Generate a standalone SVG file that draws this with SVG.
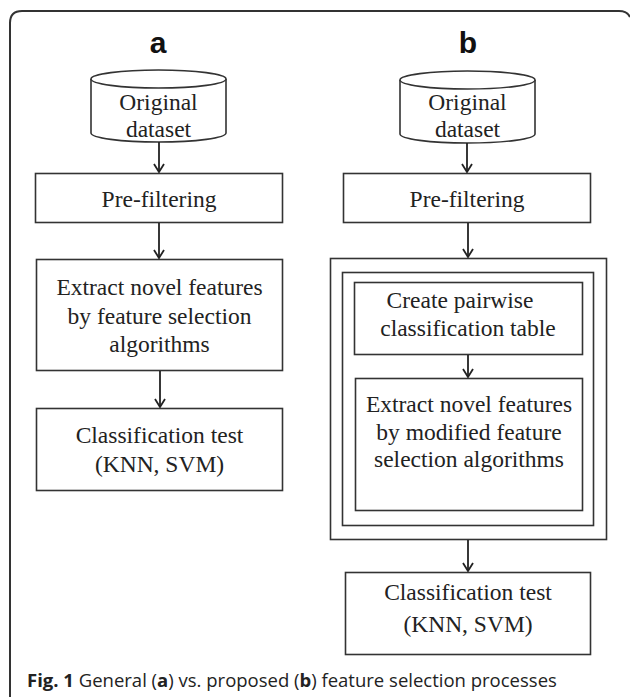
<svg xmlns="http://www.w3.org/2000/svg" width="630" height="697" viewBox="0 0 630 697">
<style>
.box{fill:#fff;stroke:#333;stroke-width:1.6}
.t{font-family:"Liberation Serif","Times New Roman",serif;font-size:23.5px;fill:#222;text-anchor:middle}
.lbl{font-family:"Liberation Sans",Arial,sans-serif;font-size:30px;font-weight:bold;fill:#111;text-anchor:middle}
.cap{font-family:"Open Sans","Noto Sans",sans-serif;font-size:18.5px;fill:#222}
.ln{stroke:#222;stroke-width:1.8;fill:none}
</style>
<defs>
<marker id="ah" viewBox="0 0 10 12" refX="9" refY="6" markerWidth="10" markerHeight="12" markerUnits="userSpaceOnUse" orient="auto">
<path d="M1,1 L9,6 L1,11" fill="none" stroke="#222" stroke-width="1.8"/>
</marker>
</defs>
<rect width="630" height="697" fill="#fff"/>
<path d="M10,697 V23 Q10,11 22,11 H619 Q627,11 630,17" fill="none" stroke="#333" stroke-width="2"/>
<text class="lbl" x="158" y="53">a</text>
<text class="lbl" x="468" y="53">b</text>
<g id="a-dataset">
<path class="box" d="M91,79 V133 A67.5,9 0 0 0 226,133 V79"/>
<ellipse class="box" cx="158.5" cy="79" rx="67.5" ry="9"/>
<text class="t" x="158.5" y="110">Original</text>
<text class="t" x="158.5" y="137">dataset</text>
</g>
<g id="a-prefilter">
<rect class="box" x="35.5" y="173.5" width="247" height="49"/>
<text class="t" x="159" y="207">Pre-filtering</text>
</g>
<g id="a-extract">
<rect class="box" x="36.5" y="259.5" width="246" height="111"/>
<text class="t" x="159.5" y="295">Extract novel features</text>
<text class="t" x="159.5" y="324">by feature selection</text>
<text class="t" x="159.5" y="352">algorithms</text>
</g>
<g id="a-classify">
<rect class="box" x="36.5" y="408.5" width="246" height="82"/>
<text class="t" x="159.5" y="443">Classification test</text>
<text class="t" x="159.5" y="472">(KNN, SVM)</text>
</g>
<g id="b-dataset">
<path class="box" d="M400,80 V134 A67.5,9 0 0 0 535,134 V80"/>
<ellipse class="box" cx="467.5" cy="80" rx="67.5" ry="9"/>
<text class="t" x="467.5" y="110">Original</text>
<text class="t" x="467.5" y="137">dataset</text>
</g>
<g id="b-prefilter">
<rect class="box" x="343.5" y="173.5" width="247" height="49"/>
<text class="t" x="467" y="207">Pre-filtering</text>
</g>
<g id="b-outer">
<rect class="box" x="330.5" y="258.5" width="276" height="281"/>
<rect class="box" x="342.5" y="272.5" width="251" height="253"/>
</g>
<g id="b-pairwise">
<rect class="box" x="354.5" y="282.5" width="228" height="72"/>
<text class="t" x="460" y="308">Create pairwise</text>
<text class="t" x="468" y="336">classification table</text>
</g>
<g id="b-extract">
<rect class="box" x="355.5" y="378.5" width="227" height="132"/>
<text class="t" x="469" y="412">Extract novel features</text>
<text class="t" x="469" y="440">by modified feature</text>
<text class="t" x="469" y="467">selection algorithms</text>
</g>
<g id="b-classify">
<rect class="box" x="345.5" y="572.5" width="245" height="82"/>
<text class="t" x="468" y="600">Classification test</text>
<text class="t" x="468" y="632">(KNN, SVM)</text>
</g>
<g id="connectors">
<line class="ln" x1="159" y1="142" x2="159" y2="172" marker-end="url(#ah)"/>
<line class="ln" x1="159" y1="223" x2="159" y2="258" marker-end="url(#ah)"/>
<line class="ln" x1="160" y1="371" x2="160" y2="407" marker-end="url(#ah)"/>
<line class="ln" x1="467" y1="143" x2="467" y2="172" marker-end="url(#ah)"/>
<line class="ln" x1="468" y1="223" x2="468" y2="257" marker-end="url(#ah)"/>
<line class="ln" x1="468" y1="355" x2="468" y2="377" marker-end="url(#ah)"/>
<line class="ln" x1="468" y1="540" x2="468" y2="571" marker-end="url(#ah)"/>
</g>
<text class="cap" x="27" y="687"><tspan font-weight="bold">Fig. 1</tspan> General (<tspan font-weight="bold">a</tspan>) vs. proposed (<tspan font-weight="bold">b</tspan>) feature selection processes</text>
</svg>
